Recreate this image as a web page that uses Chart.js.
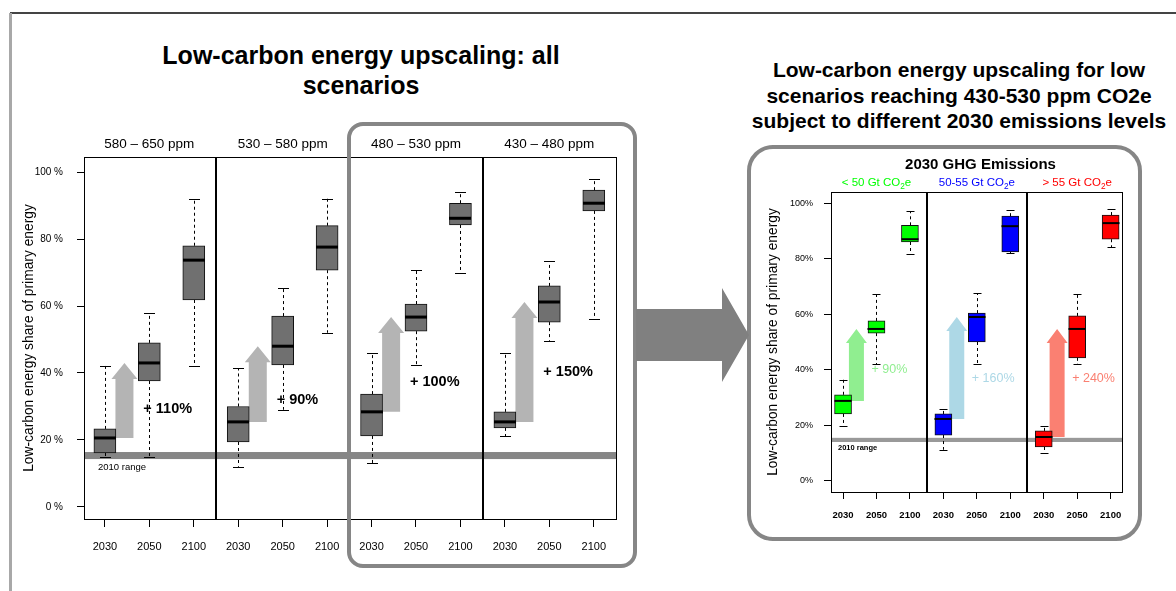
<!DOCTYPE html>
<html><head><meta charset="utf-8">
<script src="https://cdn.jsdelivr.net/npm/chart.js@4.4.1/dist/chart.umd.min.js"></script>
<style>
html,body{margin:0;padding:0;background:#fff;width:1176px;height:591px;overflow:hidden;font-family:'Liberation Sans',Arial,sans-serif;}
canvas{position:absolute;left:0;top:0;}
.frame{position:absolute;box-sizing:border-box;border:4px solid #868686;z-index:3;}
.title{position:absolute;text-align:center;font-weight:bold;color:#000;white-space:nowrap;}
</style></head><body>
<div style="position:absolute;left:10px;top:12px;width:1166px;height:2px;background:#444"></div>
<div style="position:absolute;left:9px;top:13px;width:3px;height:578px;background:#a8a8a8"></div>
<div class="title" style="left:111px;top:40px;width:500px;font-size:25px;line-height:30px">Low-carbon energy upscaling: all<br>scenarios</div>
<div class="title" style="left:739px;top:57px;width:440px;font-size:21px;line-height:25.5px">Low-carbon energy upscaling for low<br>scenarios reaching 430-530 ppm CO2e<br>subject to different 2030 emissions levels</div>
<canvas id="leftChart" width="1176" height="591"></canvas>
<canvas id="rightChart" width="1176" height="591"></canvas>
<div class="frame" style="left:347px;top:122px;width:290px;height:446px;border-radius:16px"></div>
<div class="frame" style="left:747px;top:145px;width:395px;height:396px;border-radius:26px"></div>
<svg style="position:absolute;left:0;top:0;z-index:4" width="1176" height="591"><polygon points="636,309 722,309 722,288 749,335 722,382 722,361 636,361" fill="#808080"/></svg>
<script>
// ---------- DATA ----------
const years = ['2030', '2050', '2100'];
const yTickValues = [0, 20, 40, 60, 80, 100];
const yTitle = 'Low-carbon energy share of primary energy';
const rangeLabel = '2010 range';

// Left chart: all scenarios (box order: panel1 2030/2050/2100, panel2 ...)
const leftPanels = ['580 – 650 ppm', '530 – 580 ppm', '480 – 530 ppm', '430 – 480 ppm'];
const leftLow    = [14.8, 14.9, 42.0, 12.0, 29.0, 52.0, 13.1, 42.4, 69.8, 21.2, 49.6, 56.0];
const leftQ1     = [16.1, 37.6, 61.8, 19.4, 42.4, 70.7, 21.2, 52.5, 84.2, 23.6, 55.2, 88.4];
const leftMedian = [20.6, 43.0, 73.7, 25.4, 48.0, 77.6, 28.4, 56.7, 86.2, 25.4, 61.2, 90.7];
const leftQ3     = [23.3, 49.0, 78.0, 30.0, 57.0, 84.0, 33.7, 60.6, 90.7, 28.4, 66.0, 94.6];
const leftHigh   = [42.1, 58.0, 92.0, 41.5, 65.4, 92.0, 46.0, 70.7, 94.0, 46.0, 73.4, 98.0];
const leftIncrease = ['+ 110%', '+ 90%', '+ 100%', '+ 150%'];
const leftIncreaseAt = [29.3, 32.0, 37.3, 40.3];
const leftRange2010 = [14.3, 16.4];

// Right chart: 430-530 ppm scenarios by 2030 GHG emissions
const rightTitle = '2030 GHG Emissions';
const rightPanels = ['< 50 Gt CO₂e', '50-55 Gt CO₂e', '> 55 Gt CO₂e'];
const rightLow    = [19.8, 42.0, 81.7, 11.2, 42.0, 82.0, 10.0, 42.0, 84.2];
const rightQ1     = [24.1, 53.2, 86.0, 16.5, 50.0, 82.4, 12.2, 44.3, 87.0];
const rightMedian = [28.8, 54.7, 87.0, 22.3, 59.0, 91.7, 15.8, 54.7, 92.8];
const rightQ3     = [31.0, 57.6, 92.0, 24.1, 60.4, 95.3, 18.0, 59.4, 95.7];
const rightHigh   = [36.5, 67.3, 97.0, 25.9, 67.6, 97.5, 19.8, 67.3, 97.8];
const rightIncrease = ['+ 90%', '+ 160%', '+ 240%'];
const rightIncreaseAt = [40.0, 36.7, 36.7];
const rightRange2010 = [14.0, 15.5];

// ---------- STYLES ----------
const FONT = "'Liberation Sans', Arial, sans-serif";
Chart.defaults.font.family = FONT;
Chart.defaults.color = '#000';
const rightPanelColors = ['#00ff00', '#0000ff', '#ff0000'];
const rightArrowColors = ['#90ee90', '#add8e6', '#fa8072'];

function seg(ctx, x1, y1, x2, y2) { ctx.beginPath(); ctx.moveTo(x1, y1); ctx.lineTo(x2, y2); ctx.stroke(); }

function drawSubText(ctx, text, cx, cy, size, color, weight) {
  const parts = text.split('₂');
  const main = weight + ' ' + size + 'px ' + FONT;
  const sub = weight + ' ' + (size * 0.72) + 'px ' + FONT;
  ctx.font = main; const w0 = ctx.measureText(parts[0]).width;
  const w2 = parts.length > 1 ? ctx.measureText(parts[1]).width : 0;
  ctx.font = sub; const w1 = parts.length > 1 ? ctx.measureText('2').width : 0;
  let x = cx - (w0 + w1 + w2) / 2;
  ctx.fillStyle = color; ctx.textAlign = 'left'; ctx.textBaseline = 'middle';
  ctx.font = main; ctx.fillText(parts[0], x, cy); x += w0;
  if (parts.length > 1) {
    ctx.font = sub; ctx.fillText('2', x, cy + size * 0.3); x += w1;
    ctx.font = main; ctx.fillText(parts[1], x, cy);
  }
}

function makeBoxPlugin(id, d, s) {
  return {
    id,
    beforeDatasetsDraw(chart) {
      const {ctx, chartArea: a, scales: {x, y}} = chart;
      ctx.save();
      const yb1 = y.getPixelForValue(d.band[0]), yb2 = y.getPixelForValue(d.band[1]);
      ctx.fillStyle = s.bandColor;
      ctx.fillRect(a.left, yb2, a.right - a.left, yb1 - yb2);
      for (let k = 0; k < d.panels.length; k++) {
        const i0 = 3 * k, i1 = 3 * k + 1;
        const cx = x.getPixelForValue(i0 + 1 + s.arrowOffset);
        const yB = y.getPixelForValue(d.median[i0]);
        const yT = y.getPixelForValue(d.median[i1]);
        ctx.fillStyle = s.arrowColors[k];
        ctx.beginPath();
        ctx.moveTo(cx - s.shaftW / 2, yB);
        ctx.lineTo(cx - s.shaftW / 2, yT + s.headH);
        ctx.lineTo(cx - s.headW / 2, yT + s.headH);
        ctx.lineTo(cx, yT);
        ctx.lineTo(cx + s.headW / 2, yT + s.headH);
        ctx.lineTo(cx + s.shaftW / 2, yT + s.headH);
        ctx.lineTo(cx + s.shaftW / 2, yB);
        ctx.closePath(); ctx.fill();
      }
      ctx.restore();
    },
    afterDatasetsDraw(chart) {
      const {ctx, chartArea: a, scales: {x, y}} = chart;
      ctx.save();
      ctx.strokeStyle = '#000';
      for (let i = 0; i < d.median.length; i++) {
        const px = Math.round(x.getPixelForValue(i + 1)) + 0.5;
        const yLo = y.getPixelForValue(d.low[i]), yQ1 = y.getPixelForValue(d.q1[i]);
        const yQ3 = y.getPixelForValue(d.q3[i]), yHi = y.getPixelForValue(d.high[i]);
        const yMed = y.getPixelForValue(d.median[i]);
        ctx.lineWidth = 1;
        ctx.setLineDash([3, 3]);
        seg(ctx, px, yQ3, px, yHi);
        seg(ctx, px, yQ1, px, yLo);
        ctx.setLineDash([]);
        seg(ctx, px - s.capW / 2, Math.round(yHi) + 0.5, px + s.capW / 2, Math.round(yHi) + 0.5);
        seg(ctx, px - s.capW / 2, Math.round(yLo) + 0.5, px + s.capW / 2, Math.round(yLo) + 0.5);
        ctx.lineWidth = s.medW;
        seg(ctx, px - s.boxW / 2 - 0.5, yMed, px + s.boxW / 2 - 0.5, yMed);
      }
      // plot frame and panel dividers
      ctx.lineWidth = 1;
      ctx.strokeRect(Math.round(a.left) + 0.5, Math.round(a.top) + 0.5, Math.round(a.right - a.left), Math.round(a.bottom - a.top));
      ctx.lineWidth = 2;
      for (let k = 1; k < d.panels.length; k++) {
        const dx = Math.round(x.getPixelForValue(3 * k + 0.5));
        seg(ctx, dx, a.top, dx, a.bottom);
      }
      // increase labels
      for (let k = 0; k < d.panels.length; k++) {
        ctx.font = s.incFont;
        ctx.fillStyle = s.incColors[k];
        ctx.textAlign = 'left'; ctx.textBaseline = 'middle';
        ctx.fillText(d.increase[k], x.getPixelForValue(3 * k + 2) + s.incDx, y.getPixelForValue(d.increaseAt[k]));
      }
      // 2010 range label
      ctx.font = s.rangeFont; ctx.fillStyle = '#000';
      ctx.textAlign = 'left'; ctx.textBaseline = 'middle';
      ctx.fillText(rangeLabel, a.left + s.rangeDx, y.getPixelForValue(d.band[0]) + s.rangeDy);
      ctx.restore();
    },
    afterDraw(chart) {
      const {ctx, chartArea: a, scales: {x}} = chart;
      ctx.save();
      if (d.title) {
        ctx.font = 'bold 15px ' + FONT; ctx.fillStyle = '#000';
        ctx.textAlign = 'center'; ctx.textBaseline = 'middle';
        ctx.fillText(d.title, (a.left + a.right) / 2 + 4, a.top - 27);
      }
      for (let k = 0; k < d.panels.length; k++) {
        const cx = x.getPixelForValue(3 * k + 2);
        drawSubText(ctx, d.panels[k], cx, a.top + s.headerDy, s.headerSize, s.headerColors[k], 'normal');
      }
      ctx.restore();
    }
  };
}

function axisConfig(n, xmin, xmax, ymin, ymax, o) {
  return {
    x: {
      type: 'linear', min: xmin, max: xmax, offset: false,
      afterBuildTicks: sc => { sc.ticks = Array.from({length: n}, (_, i) => ({value: i + 1})); },
      afterFit: sc => { sc.height = o.xHeight; },
      ticks: {callback: v => years[(v - 1) % 3], font: o.xFont, padding: o.xPad, maxRotation: 0, autoSkip: false, color: '#000'},
      grid: {drawOnChartArea: false, drawTicks: true, tickLength: o.xTick, color: '#000', offset: false},
      border: {display: false}
    },
    y: {
      min: ymin, max: ymax,
      afterBuildTicks: sc => { sc.ticks = yTickValues.map(v => ({value: v})); },
      afterFit: sc => { sc.width = o.yWidth; },
      ticks: {callback: v => v + o.pct, font: o.yFont, padding: o.yPad, color: '#000'},
      grid: {drawOnChartArea: false, drawTicks: true, tickLength: 7, color: '#000'},
      border: {display: false},
      title: {display: true, text: yTitle, font: {size: 13.8}, padding: {top: o.titlePad, bottom: 0}, color: '#000'}
    }
  };
}

new Chart(document.getElementById('leftChart'), {
  type: 'bar',
  data: {
    datasets: [{
      data: leftQ1.map((q, i) => ({x: i + 1, y: [q, leftQ3[i]]})),
      backgroundColor: '#707070', borderColor: '#111', borderWidth: 1,
      borderSkipped: false, barThickness: 22
    }]
  },
  options: {
    responsive: false, animation: false, devicePixelRatio: 1, events: [],
    layout: {padding: {left: 14, right: 560, top: 157, bottom: 22}},
    plugins: {legend: {display: false}, tooltip: {enabled: false}},
    scales: axisConfig(12, 0.53, 12.5, -3.6, 104.5, {
      xHeight: 50, xFont: {size: 11}, xPad: 13, xTick: 8,
      yWidth: 70, yFont: {size: 10}, yPad: 14, pct: ' %', titlePad: 6.7
    })
  },
  plugins: [makeBoxPlugin('leftBoxes',
    {panels: leftPanels, low: leftLow, q1: leftQ1, median: leftMedian, q3: leftQ3, high: leftHigh,
     increase: leftIncrease, increaseAt: leftIncreaseAt, band: leftRange2010},
    {bandColor: '#868686', arrowColors: ['#b4b4b4', '#b4b4b4', '#b4b4b4', '#b4b4b4'], arrowOffset: 0.44,
     shaftW: 18, headW: 26, headH: 16, capW: 11, boxW: 22, medW: 3,
     incFont: 'bold 14.5px ' + FONT, incColors: ['#000', '#000', '#000', '#000'], incDx: -6,
     rangeFont: '9.5px ' + FONT, rangeDx: 14, rangeDy: 8,
     headerDy: -13, headerSize: 13.5, headerColors: ['#000', '#000', '#000', '#000']})]
});

new Chart(document.getElementById('rightChart'), {
  type: 'bar',
  data: {
    datasets: [{
      data: rightQ1.map((q, i) => ({x: i + 1, y: [q, rightQ3[i]]})),
      backgroundColor: rightQ1.map((_, i) => rightPanelColors[Math.floor(i / 3)]),
      borderColor: '#111', borderWidth: 1, borderSkipped: false, barThickness: 17
    }]
  },
  options: {
    responsive: false, animation: false, devicePixelRatio: 1, events: [],
    layout: {padding: {left: 761, right: 54, top: 192, bottom: 59}},
    plugins: {legend: {display: false}, tooltip: {enabled: false}},
    scales: axisConfig(9, 0.64, 9.34, -4, 104, {
      xHeight: 40, xFont: {size: 9.5, weight: 'bold'}, xPad: 10.6, xTick: 7,
      yWidth: 70, yFont: {size: 9}, yPad: 11, pct: '%', titlePad: 4.2
    })
  },
  plugins: [makeBoxPlugin('rightBoxes',
    {title: rightTitle, panels: rightPanels, low: rightLow, q1: rightQ1, median: rightMedian, q3: rightQ3, high: rightHigh,
     increase: rightIncrease, increaseAt: rightIncreaseAt, band: rightRange2010},
    {bandColor: '#999999', arrowColors: rightArrowColors, arrowOffset: 0.40,
     shaftW: 15, headW: 21, headH: 14, capW: 8, boxW: 17, medW: 2,
     incFont: '12.5px ' + FONT, incColors: rightArrowColors, incDx: -5,
     rangeFont: 'bold 7.5px ' + FONT, rangeDx: 7, rangeDy: 6,
     headerDy: -9, headerSize: 11.5, headerColors: rightPanelColors})]
});
</script>
</body></html>
